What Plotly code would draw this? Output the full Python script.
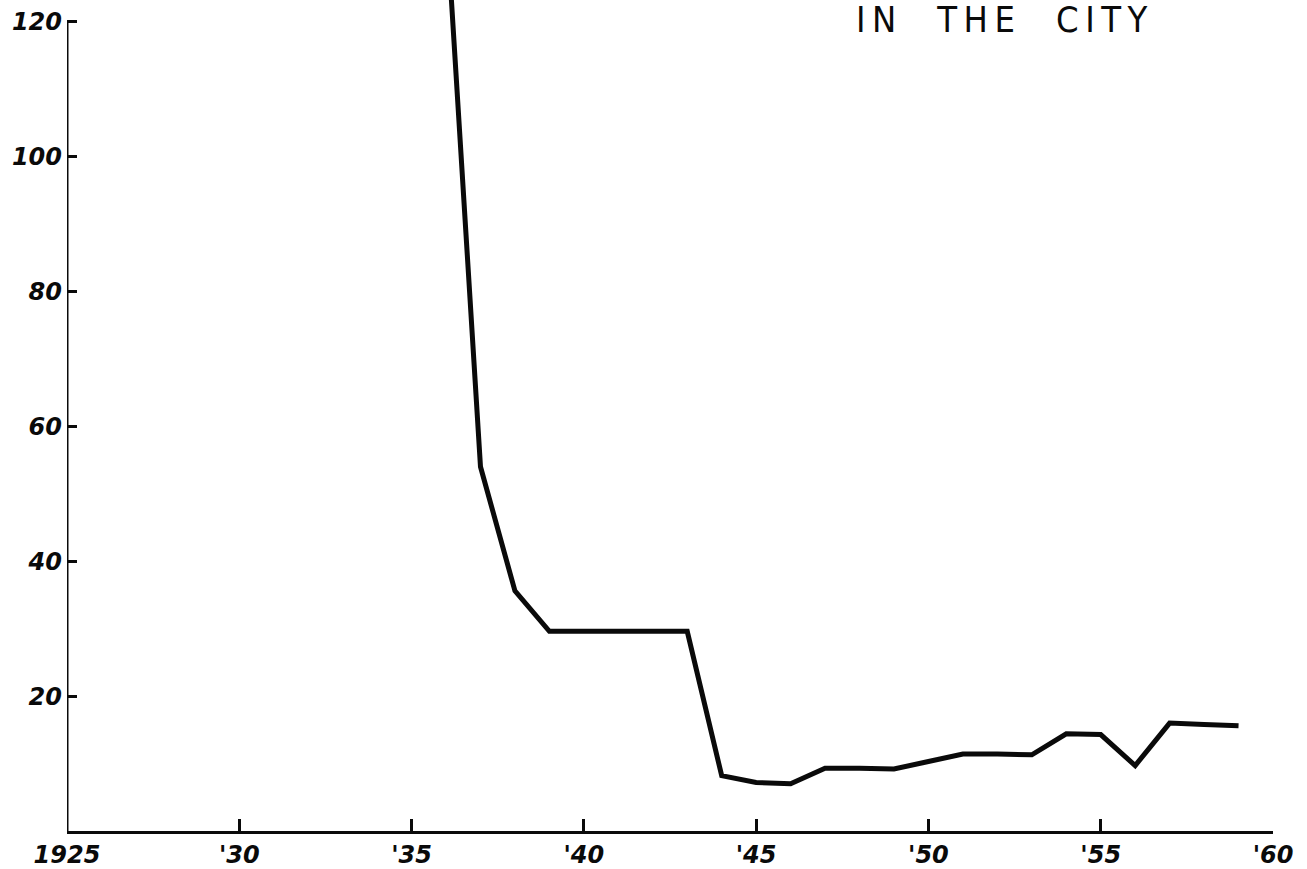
import plotly.graph_objects as go

# Series: yearly values, 1936-1959
years = [1936, 1937, 1938, 1939, 1940, 1941, 1942, 1943, 1944, 1945, 1946, 1947,
         1948, 1949, 1950, 1951, 1952, 1953, 1954, 1955, 1956, 1957, 1958, 1959]
values = [136, 54, 35.6, 29.6, 29.6, 29.6, 29.6, 29.6, 8.2, 7.2, 7.0, 9.3,
          9.3, 9.2, 10.3, 11.4, 11.4, 11.3, 14.4, 14.3, 9.7, 16.0, 15.8, 15.6]

x_tick_vals = [1925, 1930, 1935, 1940, 1945, 1950, 1955, 1960]
x_tick_text = ["1925", "'30", "'35", "'40", "'45", "'50", "'55", "'60"]
y_tick_vals = [20, 40, 60, 80, 100, 120]
y_tick_text = ["20", "40", "60", "80", "100", "120"]

title_text = "IN THE CITY"

INK = "#0a0a0a"
hand_font = dict(family="DejaVu Sans", color=INK, weight="bold", style="italic")

fig = go.Figure()
fig.add_trace(go.Scatter(
    x=years, y=values, mode="lines",
    line=dict(color=INK, width=5),
    hoverinfo="skip", showlegend=False,
))

# vertical axis line stops at the top tick
fig.add_shape(type="line", xref="x", yref="y",
              x0=x_tick_vals[0], x1=x_tick_vals[0], y0=0, y1=y_tick_vals[-1],
              line=dict(color=INK, width=3), layer="above")

# spaced-out lettering for the heading
spaced = "    ".join("\u2009".join(w) for w in title_text.split(" "))
fig.add_annotation(
    text=spaced, xref="paper", yref="paper",
    x=0.7745, y=1.0, xanchor="center", yanchor="top", yshift=3,
    showarrow=False,
    font=dict(family="DejaVu Sans Condensed", size=36, color=INK),
)

fig.update_layout(
    width=1307, height=869,
    margin=dict(l=67, r=34, t=0, b=31),
    paper_bgcolor="white", plot_bgcolor="white",
    xaxis=dict(
        range=[1925, 1960],
        tickmode="array", tickvals=x_tick_vals, ticktext=x_tick_text,
        ticks="inside", ticklen=12, tickwidth=2.5, tickcolor=INK,
        showline=True, linecolor=INK, linewidth=3,
        showgrid=False, zeroline=False,
        tickfont=dict(size=24, **hand_font),
    ),
    yaxis=dict(
        range=[0, 123.2],
        tickmode="array", tickvals=y_tick_vals, ticktext=y_tick_text,
        ticks="inside", ticklen=10, tickwidth=2.5, tickcolor=INK,
        showline=False, showgrid=False, zeroline=False,
        ticklabelstandoff=4,
        tickfont=dict(size=24, **hand_font),
    ),
)

fig.write_html("out.html")
